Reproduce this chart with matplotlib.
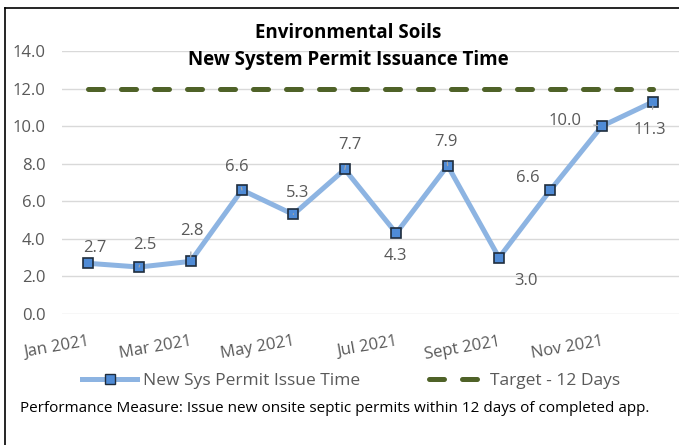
import matplotlib.pyplot as plt
from matplotlib.lines import Line2D

months = ['Jan 2021', 'Feb 2021', 'Mar 2021', 'Apr 2021', 'May 2021', 'Jun 2021',
          'Jul 2021', 'Aug 2021', 'Sept 2021', 'Oct 2021', 'Nov 2021', 'Dec 2021']
issue_time = [2.7, 2.5, 2.8, 6.6, 5.3, 7.7, 4.3, 7.9, 3.0, 6.6, 10.0, 11.3]
target = [12] * 12

# label offsets in pixels (dx, dy) for each data label, and whether a leader line is drawn
label_offsets = [(7, 15), (6, 22), (1, 30), (-5, 23), (4, 21), (5, 24),
                 (-1, -23), (-2, 24), (27, -23), (-23, 12), (-37, 5), (-3, -28)]
leaders = [False, True, True, True, True, True, False, True, False, False, True, True]

plt.rcParams['font.family'] = ['Open Sans', 'DejaVu Sans']
grey = '#595959'

fig = plt.figure(figsize=(6.79, 4.45), dpi=100)
ax = fig.add_axes([62 / 679, 1 - 314 / 445, 1 - 62 / 679, (314 - 51) / 445])

x = list(range(len(months)))
ax.plot(x, target, color='#4F6228', lw=3.6, dashes=(3.0, 3.6), dash_capstyle='round')
ax.plot(x, issue_time, color='#8DB4E2', lw=3.6, marker='s', markersize=7,
        markerfacecolor='#4F8BD6', markeredgecolor='#1F2D3D', markeredgewidth=1.2, zorder=3)

for i, v in enumerate(issue_time):
    dx, dy = label_offsets[i]
    arrow = None
    if leaders[i]:
        arrow = dict(arrowstyle='-', color='#A6A6A6', lw=0.9, shrinkA=7, shrinkB=3)
    ax.annotate(f'{v:.1f}', (i, v), xytext=(dx, dy), textcoords='offset pixels',
                ha='center', va='center', fontsize=12, color=grey, arrowprops=arrow)

ax.set_xlim(-0.5, 11.5)
ax.set_ylim(0, 14)
ax.set_yticks([0, 2, 4, 6, 8, 10, 12, 14])
ax.set_yticklabels([f'{t:.1f}' for t in ax.get_yticks()])
ax.set_xticks(x[::2])
ax.set_xticklabels(months[::2], rotation=10, ha='right', rotation_mode='anchor')
ax.tick_params(axis='x', length=0, pad=14, labelsize=12, labelcolor=grey)
ax.tick_params(axis='y', length=0, pad=12, labelsize=12, labelcolor=grey)
ax.grid(axis='y', color='#D9D9D9', lw=1)
ax.set_axisbelow(True)
for s in ax.spines.values():
    s.set_visible(False)

fig.text(348 / 679, 1 - 33 / 445, 'Environmental Soils', ha='center', va='center',
         fontsize=13.5, fontweight='bold', color='black')
fig.text(348 / 679, 1 - 60 / 445, 'New System Permit Issuance Time', ha='center', va='center',
         fontsize=13.5, fontweight='bold', color='black')

handles = [Line2D([], [], color='#8DB4E2', lw=3.6, marker='s', markersize=7,
                  markerfacecolor='#4F8BD6', markeredgecolor='#1F2D3D'),
           Line2D([], [], color='#4F6228', lw=3.6, dashes=(3.0, 3.6), dash_capstyle='round')]
fig.legend(handles, ['New Sys Permit Issue Time', 'Target - 12 Days'], loc='center',
           bbox_to_anchor=(351 / 679, 1 - 381 / 445), ncol=2, frameon=False,
           fontsize=12.5, labelcolor=grey, columnspacing=4, handlelength=3.2, handletextpad=0.3)

fig.text(20 / 679, 1 - 408 / 445,
         'Performance Measure: Issue new onsite septic permits within 12 days of completed app.',
         ha='left', va='center', fontsize=11, color='black')

# chart border (left and top edges visible)
fig.add_artist(Line2D([5 / 679, 5 / 679], [0, 1 - 8 / 445], color='black', lw=1.2))
fig.add_artist(Line2D([5 / 679, 1], [1 - 8 / 445, 1 - 8 / 445], color='black', lw=1.2))

fig.savefig('out.png', dpi=100)
